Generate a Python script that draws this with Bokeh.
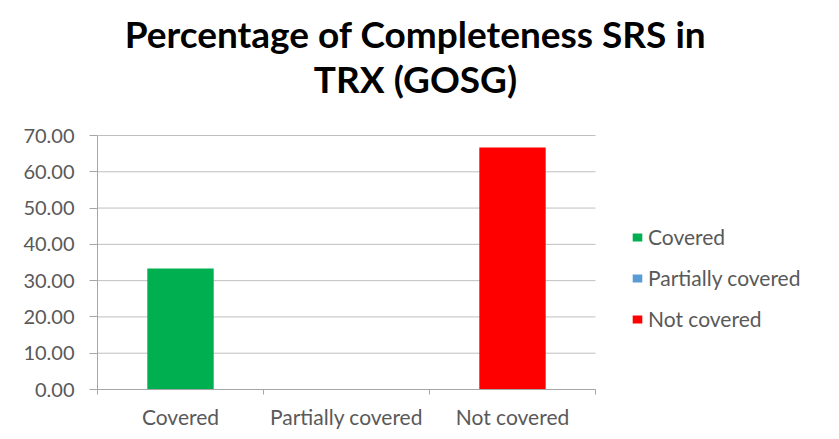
from bokeh.plotting import figure
from bokeh.models import (ColumnDataSource, FixedTicker, Label, Legend, LegendItem,
                          NumeralTickFormatter, Range1d)
from bokeh.embed import file_html
from bokeh.resources import INLINE

categories = ["Covered", "Partially covered", "Not covered"]
values = [33.33, 0.0, 66.67]
colors = ["#00B050", "#5B9BD5", "#FF0000"]
y_ticks = [0, 10, 20, 30, 40, 50, 60, 70]
y_max = 70
title_lines = ["Percentage of Completeness SRS in", "TRX (GOSG)"]

n = len(categories)
xs = [i + 0.5 for i in range(n)]
src = ColumnDataSource(dict(x=xs, top=values, color=colors, cat=categories))
grid_src = ColumnDataSource(dict(x0=[0] * len(y_ticks), x1=[n] * len(y_ticks), y=y_ticks))

FONT = "Lato"
GRAY = "#595959"
AXIS = "#A6A6A6"

# layout (pixels)
W, H = 831, 431
LEFT, PLOT_RIGHT, RIGHT_EDGE = 97, 595, 823
PLOT_TOP, PLOT_BOTTOM = 135, 389
px_per_x = (PLOT_RIGHT - LEFT) / n
px_per_y = (PLOT_BOTTOM - PLOT_TOP) / y_max


def to_x(px):
    return (px - LEFT) / px_per_x


def to_y(py):
    return (PLOT_BOTTOM - py) / px_per_y


p = figure(width=W, height=H, output_backend="svg", toolbar_location=None,
           x_range=Range1d(0, to_x(RIGHT_EDGE)), y_range=Range1d(0, to_y(0)),
           min_border_left=LEFT, min_border_right=W - RIGHT_EDGE,
           min_border_bottom=H - PLOT_BOTTOM, min_border_top=0)
p.title.visible = False
p.outline_line_color = None
p.background_fill_color = "white"
p.border_fill_color = "white"
p.xgrid.grid_line_color = None
p.ygrid.grid_line_color = None

p.segment(x0="x0", x1="x1", y0="y", y1="y", source=grid_src, line_color="#BFBFBF", line_width=1)
r = p.vbar(x="x", top="top", width=0.4, color="color", line_color=None, source=src)

# title (two centred lines)
for text, center_px in zip(title_lines, [33, 78]):
    p.add_layout(Label(x=to_x(415), y=to_y(center_px), text=text, text_align="center",
                       text_baseline="middle", text_font=FONT, text_font_size="37px",
                       text_font_style="bold", text_color="black"))

# y axis
yaxis = p.yaxis[0]
yaxis.bounds = (0, y_max)
yaxis.ticker = FixedTicker(ticks=y_ticks)
yaxis.formatter = NumeralTickFormatter(format="0.00")
yaxis.major_label_text_font = FONT
yaxis.major_label_text_font_size = "20px"
yaxis.major_label_text_color = GRAY
yaxis.axis_line_color = AXIS
yaxis.major_tick_line_color = AXIS
yaxis.major_tick_out = 8
yaxis.major_tick_in = 0
yaxis.minor_tick_line_color = None
yaxis.major_label_standoff = 15

# x axis
xaxis = p.xaxis[0]
xaxis.bounds = (0, n)
xaxis.ticker = FixedTicker(ticks=xs, minor_ticks=list(range(n + 1)))
xaxis.major_label_overrides = {x: c for x, c in zip(xs, categories)}
xaxis.major_label_text_font = FONT
xaxis.major_label_text_font_size = "21px"
xaxis.major_label_text_color = GRAY
xaxis.axis_line_color = AXIS
xaxis.major_tick_line_color = None
xaxis.major_tick_out = 0
xaxis.major_tick_in = 0
xaxis.minor_tick_line_color = AXIS
xaxis.minor_tick_out = 5
xaxis.minor_tick_in = 0
xaxis.major_label_standoff = 9

items = [LegendItem(label=c, renderers=[r], index=i) for i, c in enumerate(categories)]
legend = Legend(items=items, location=(631 - LEFT, 58), glyph_width=12, glyph_height=10,
                label_height=25, spacing=16, padding=0, margin=0, label_standoff=5,
                label_text_font=FONT, label_text_font_size="21px", label_text_color=GRAY,
                border_line_color=None, background_fill_alpha=0)
p.add_layout(legend, "center")

open("out.html", "w").write(file_html(p, INLINE))
